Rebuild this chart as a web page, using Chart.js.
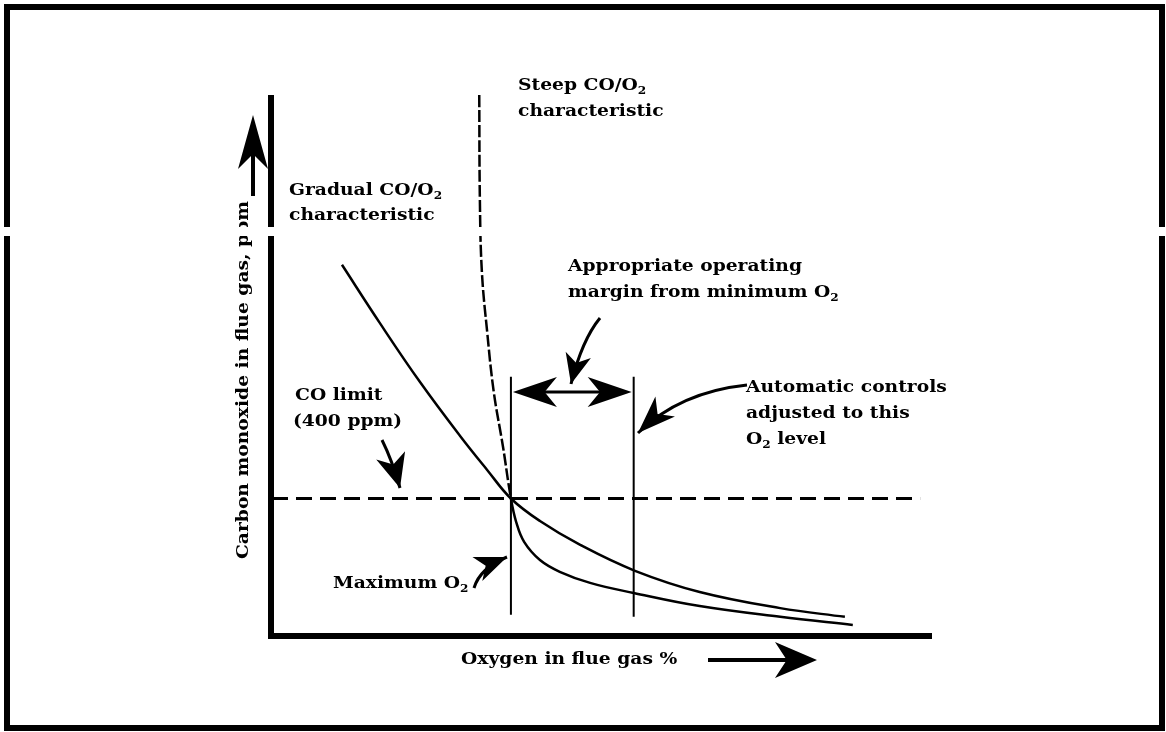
<!DOCTYPE html>
<html>
<head>
<meta charset="utf-8">
<script src="https://cdn.jsdelivr.net/npm/chart.js@4.4.1/dist/chart.umd.min.js"></script>
<style>
  body { margin: 0; background: #fff; }
  canvas { display: block; }
</style>
</head>
<body>
<canvas id="chart" width="1166" height="732"></canvas>
<script>
// O2 % (x) and CO ppm (y)
const o2Gradual = [1.06, 1.64, 2.24, 2.85, 3.26, 3.62, 4.06, 4.67, 5.50, 6.48, 7.70, 8.68];
const coGradual = [1095, 920, 747, 586, 485, 400, 333, 262, 185, 122, 74, 48];

const o2Steep = [3.14, 3.15, 3.18, 3.26, 3.36, 3.50, 3.62, 3.70, 3.82, 4.06, 4.36, 4.82, 5.48, 6.48, 7.70, 8.80];
const coSteep = [1600, 1283, 1074, 896, 717, 554, 400, 330, 271, 217, 182, 149, 119, 80, 48, 24];

const coLimit = 400;
const coLimitEnd = 9.82;
const o2Maximum = 3.62;
const o2Control = 5.48;
const markerTop = 762;
const markerBottom = [54, 48];
const bracketCO = 717;

const toPoints = (xs, ys) => xs.map((x, i) => ({ x: x, y: ys[i] }));

const FONT = "bold 17px 'DejaVu Serif', serif";
const SUB_FONT = "bold 11px 'DejaVu Serif', serif";
const STRETCH = 1.1;

function arrowHead(ctx, tipX, tipY, fromX, fromY, len, half) {
  const a = Math.atan2(tipY - fromY, tipX - fromX);
  ctx.save();
  ctx.translate(tipX, tipY);
  ctx.rotate(a);
  ctx.beginPath();
  ctx.moveTo(0, 0);
  ctx.lineTo(-len, -half);
  ctx.lineTo(-len * 0.72, 0);
  ctx.lineTo(-len, half);
  ctx.closePath();
  ctx.fill();
  ctx.restore();
}

function curvedArrow(ctx, x0, y0, cx, cy, x1, y1, len, half) {
  ctx.beginPath();
  ctx.moveTo(x0, y0);
  ctx.quadraticCurveTo(cx, cy, x1, y1);
  ctx.stroke();
  arrowHead(ctx, x1, y1, cx, cy, len, half);
}

// label with O2 subscript: parts = [text, isSub]
function label(ctx, x, y, parts) {
  ctx.save();
  ctx.translate(x, y);
  ctx.scale(STRETCH, 1);
  let cx = 0;
  parts.forEach(p => {
    ctx.font = p[1] ? SUB_FONT : FONT;
    ctx.fillText(p[0], cx, p[1] ? 5 : 0);
    cx += ctx.measureText(p[0]).width;
  });
  ctx.restore();
}

const diagram = {
  id: "diagram",
  beforeDatasetsDraw(chart) {
    const ctx = chart.ctx;
    const xs = chart.scales.x, ys = chart.scales.y;
    ctx.save();
    ctx.fillStyle = "#000";
    ctx.strokeStyle = "#000";
    // outer frame
    ctx.lineWidth = 6;
    ctx.strokeRect(7, 7, 1155, 721);
    // axes
    ctx.beginPath();
    ctx.moveTo(xs.left - 1, ys.top);
    ctx.lineTo(xs.left - 1, ys.bottom + 3);
    ctx.lineTo(xs.right, ys.bottom + 3);
    ctx.stroke();
    ctx.restore();
  },
  afterDraw(chart) {
    const ctx = chart.ctx;
    const xs = chart.scales.x, ys = chart.scales.y;
    ctx.save();
    ctx.fillStyle = "#000";
    ctx.strokeStyle = "#000";
    ctx.textBaseline = "middle";
    ctx.textAlign = "left";

    label(ctx, 518, 86, [["Steep CO/O", 0], ["2", 1]]);
    label(ctx, 518, 112, [["characteristic", 0]]);
    label(ctx, 289, 191, [["Gradual CO/O", 0], ["2", 1]]);
    label(ctx, 289, 216, [["characteristic", 0]]);
    label(ctx, 568, 267, [["Appropriate operating", 0]]);
    label(ctx, 568, 293, [["margin from minimum O", 0], ["2", 1]]);
    label(ctx, 746, 388, [["Automatic controls", 0]]);
    label(ctx, 746, 414, [["adjusted to this", 0]]);
    label(ctx, 746, 440, [["O", 0], ["2", 1], [" level", 0]]);
    label(ctx, 295, 396, [["CO limit", 0]]);
    label(ctx, 293, 422, [["(400 ppm)", 0]]);
    label(ctx, 333, 584, [["Maximum O", 0], ["2", 1]]);
    label(ctx, 461, 660, [["Oxygen in flue gas %", 0]]);

    // y axis title
    ctx.save();
    ctx.translate(244, 380);
    ctx.rotate(-Math.PI / 2);
    ctx.scale(STRETCH, 1);
    ctx.textAlign = "center";
    ctx.font = FONT;
    ctx.fillText("Carbon monoxide in flue gas, ppm", 0, 0);
    ctx.restore();

    // axis direction arrows
    ctx.lineWidth = 4;
    ctx.beginPath();
    ctx.moveTo(253, 196); ctx.lineTo(253, 140);
    ctx.stroke();
    arrowHead(ctx, 253, 115, 253, 200, 54, 15);
    ctx.beginPath();
    ctx.moveTo(708, 660); ctx.lineTo(790, 660);
    ctx.stroke();
    arrowHead(ctx, 817, 660, 700, 660, 42, 18);

    // operating margin bracket
    const bl = xs.getPixelForValue(o2Maximum), br = xs.getPixelForValue(o2Control);
    const by = ys.getPixelForValue(bracketCO);
    ctx.lineWidth = 3;
    ctx.beginPath();
    ctx.moveTo(bl + 20, by); ctx.lineTo(br - 20, by);
    ctx.stroke();
    arrowHead(ctx, bl + 2, by, br, by, 44, 15);
    arrowHead(ctx, br - 2, by, bl, by, 44, 15);

    // callout arrows
    ctx.lineWidth = 3;
    curvedArrow(ctx, 600, 318, 582, 340, 571, 384, 30, 13);
    curvedArrow(ctx, 747, 385, 680, 392, 638, 433, 38, 14);
    curvedArrow(ctx, 382, 440, 392, 460, 400, 488, 34, 15);
    curvedArrow(ctx, 474, 588, 480, 568, 507, 557, 32, 13);

    // white scan gap across the whole picture
    ctx.fillStyle = "#fff";
    ctx.fillRect(0, 227, 1166, 9);
    ctx.restore();
  }
};

const lineStyle = { borderColor: "#000", pointRadius: 0, fill: false };

new Chart(document.getElementById("chart"), {
  type: "scatter",
  data: {
    datasets: [
      Object.assign({
        label: "Gradual CO/O2 characteristic",
        data: toPoints(o2Gradual, coGradual),
        showLine: true, borderWidth: 2.5, tension: 0.4
      }, lineStyle),
      Object.assign({
        label: "Steep CO/O2 characteristic",
        data: toPoints(o2Steep, coSteep),
        showLine: true, borderWidth: 2.5, tension: 0.4,
        segment: { borderDash: c => c.p0.parsed.y > coLimit + 1 ? [12, 3] : undefined }
      }, lineStyle),
      Object.assign({
        label: "CO limit",
        data: [{ x: 0, y: coLimit }, { x: coLimitEnd, y: coLimit }],
        showLine: true, borderWidth: 3, borderDash: [16, 8]
      }, lineStyle),
      Object.assign({
        label: "Maximum O2",
        data: [{ x: o2Maximum, y: markerTop }, { x: o2Maximum, y: markerBottom[0] }],
        showLine: true, borderWidth: 2
      }, lineStyle),
      Object.assign({
        label: "Control O2",
        data: [{ x: o2Control, y: markerTop }, { x: o2Control, y: markerBottom[1] }],
        showLine: true, borderWidth: 2
      }, lineStyle)
    ]
  },
  options: {
    responsive: false,
    animation: false,
    layout: { padding: { left: 272, right: 234, top: 95, bottom: 99 } },
    scales: {
      x: { type: "linear", min: 0, max: 10, display: false },
      y: { type: "linear", min: 0, max: 1600, display: false }
    },
    plugins: {
      legend: { display: false },
      tooltip: { enabled: false }
    }
  },
  plugins: [diagram]
});
</script>
</body>
</html>
